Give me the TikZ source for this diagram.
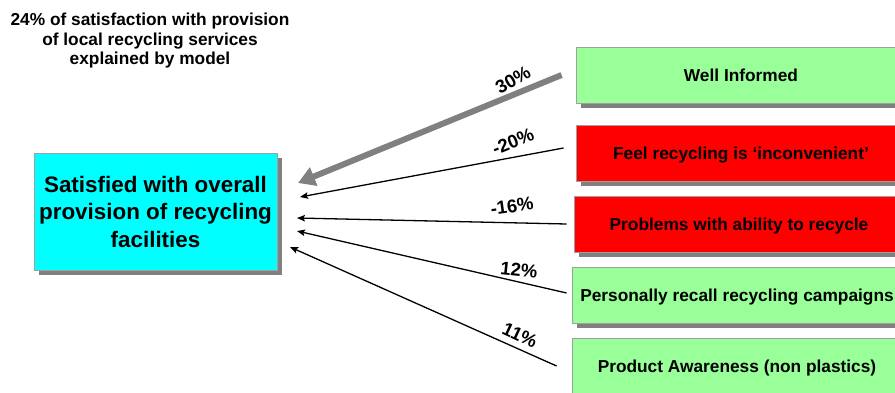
\documentclass[tikz,border=0pt]{standalone}
\usepackage{fontspec}
\setmainfont{Liberation Sans}[BoldFont={Liberation Sans Bold}]
\usetikzlibrary{arrows.meta,shadows}

\definecolor{boxgreen}{HTML}{99FF99}
\definecolor{boxred}{HTML}{FF0000}
\definecolor{boxcyan}{HTML}{00FFFF}
\definecolor{shadowgray}{HTML}{808080}
\definecolor{edgegray}{HTML}{A0A0A0}

\begin{document}
\begin{tikzpicture}[x=1pt,y=-1pt,
  boxshadow/.style={drop shadow={shadow xshift=5pt,shadow yshift=-5pt,fill=shadowgray,opacity=1}},
  factor/.style={draw=edgegray,line width=0.8pt,minimum width=330pt,minimum height=56pt,
    inner sep=0pt,text height=12.5pt,text depth=0pt,
    font=\bfseries\fontsize{17.3}{20}\selectfont,boxshadow},
  outcome/.style={draw=edgegray,line width=0.8pt,fill=boxcyan,minimum width=243pt,minimum height=117pt,
    inner sep=0pt,align=center,font=\bfseries\fontsize{22.4}{27.5}\selectfont,boxshadow},
  heading/.style={align=center,inner sep=0pt,font=\bfseries\fontsize{17.3}{19.5}\selectfont},
  pct/.style={inner sep=0pt,font=\bfseries\fontsize{18.5}{20}\selectfont},
  bigarrow/.style={draw=shadowgray,line width=6pt,-{Triangle[length=17pt,width=19pt]}},
  thinarrow/.style={draw=black,line width=1.3pt,-{Stealth[length=8pt,width=6.5pt,inset=1.5pt]}}
]
\clip (0,0) rectangle (895,392);

% heading
\node[heading] (title) at (150,41) {24\% of satisfaction with provision\\of local recycling services\\explained by model};

% outcome box
\node[outcome] (main) at (155.5,211.5) {Satisfied with overall\\provision of recycling\\facilities};

% driver boxes
\node[factor,fill=boxgreen] (b1) at (741,75)  {Well Informed};
\node[factor,fill=boxred]   (b2) at (741,153) {Feel recycling is ‘inconvenient’};
\node[factor,fill=boxred]   (b3) at (739,224) {Problems with ability to recycle};
\node[factor,fill=boxgreen] (b4) at (737,295) {Personally recall recycling campaigns};
\node[factor,fill=boxgreen] (b5) at (737,366) {Product Awareness (non plastics)};

% arrow tips near the outcome box
\coordinate (t1) at (298,183);
\coordinate (t2) at (300,197);
\coordinate (t3) at (297,218);
\coordinate (t4) at (297,231);
\coordinate (t5) at (290,247);

% connectors
\draw[bigarrow]  ([xshift=-14pt]b1.west) -- (t1);
\draw[thinarrow] ([xshift=-12pt,yshift=5pt]b2.west) -- (t2);
\draw[thinarrow] ([xshift=-7pt]b3.west) -- (t3);
\draw[thinarrow] ([xshift=-5pt,yshift=2pt]b4.west) -- (t4);
\draw[thinarrow] ([xshift=-15pt]b5.west) -- (t5);

% weights
\node[pct,rotate=30]  (l1) at (513,80)  {30\%};
\node[pct,rotate=22]  (l2) at (513,142) {-20\%};
\node[pct,rotate=8]   (l3) at (512,206) {-16\%};
\node[pct,rotate=-6]  (l4) at (519,270) {12\%};
\node[pct,rotate=-25] (l5) at (520,335) {11\%};
\end{tikzpicture}
\end{document}
